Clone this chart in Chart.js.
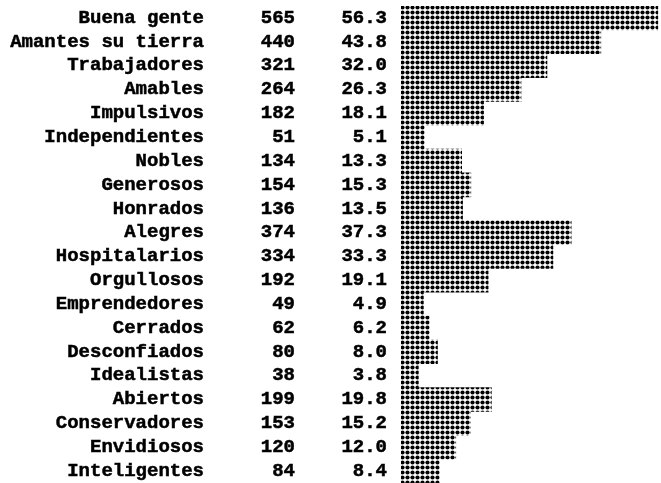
<!DOCTYPE html>
<html>
<head>
<meta charset="utf-8">
<script src="https://cdn.jsdelivr.net/npm/chart.js@4"></script>
<style>
  html, body { margin: 0; padding: 0; background: #fff; }
  #wrap { width: 661px; height: 483px; }
</style>
</head>
<body>
<div id="wrap"><canvas id="myChart" width="661" height="483"></canvas></div>
<script>
let labels = ['Buena gente', 'Amantes su tierra', 'Trabajadores', 'Amables', 'Impulsivos',
  'Independientes', 'Nobles', 'Generosos', 'Honrados', 'Alegres', 'Hospitalarios',
  'Orgullosos', 'Emprendedores', 'Cerrados', 'Desconfiados', 'Idealistas', 'Abiertos',
  'Conservadores', 'Envidiosos', 'Inteligentes'];
let counts = [565, 440, 321, 264, 182, 51, 134, 154, 136, 374, 334, 192, 49, 62, 80, 38, 199, 153, 120, 84];
let percents = [56.3, 43.8, 32.0, 26.3, 18.1, 5.1, 13.3, 15.3, 13.5, 37.3, 33.3, 19.1, 4.9, 6.2, 8.0, 3.8, 19.8, 15.2, 12.0, 8.4];

let textFont = 'bold 19px "Liberation Mono", "Courier New", monospace';

// dot matrix fill for the bars
function dotPattern() {
    var c = document.createElement('canvas');
    c.width = 5;
    c.height = 5;
    var g = c.getContext('2d');
    g.fillStyle = '#fff';
    g.fillRect(0, 0, 5, 5);
    g.fillStyle = '#000';
    g.beginPath();
    g.arc(2.5, 2.5, 2.1, 0, Math.PI * 2);
    g.fill();
    return g.createPattern(c, 'repeat');
}

// name, count and percent columns left of the bars
let textColumns = {
    id: 'textColumns',
    afterDraw(chart) {
        var ctx = chart.ctx;
        var y = chart.scales.y;
        var left = chart.chartArea.left;
        ctx.save();
        ctx.font = textFont;
        ctx.fillStyle = '#000';
        ctx.strokeStyle = '#000';
        ctx.lineWidth = 0.5;
        ctx.textAlign = 'right';
        ctx.textBaseline = 'middle';
        for (var i = 0; i < labels.length; i++) {
            var py = y.getPixelForValue(i);
            var cols = [[labels[i], left - 197], [String(counts[i]), left - 106], [percents[i].toFixed(1), left - 14]];
            cols.forEach(function (c) {
                ctx.fillText(c[0], c[1], py);
                ctx.strokeText(c[0], c[1], py);
            });
        }
        ctx.restore();
    }
};

let ctx = document.getElementById('myChart').getContext('2d');
let myChart = new Chart(ctx, {
    type: 'bar',
    data: {
        labels: labels,
        datasets: [{
            data: percents,
            backgroundColor: dotPattern(),
            borderWidth: 0,
            barPercentage: 1,
            categoryPercentage: 1
        }]
    },
    options: {
        indexAxis: 'y',
        responsive: false,
        animation: false,
        layout: { padding: { top: 6, right: 0, bottom: 0, left: 401 } },
        scales: {
            x: { display: false, min: 0, max: 57 },
            y: { display: false }
        },
        plugins: {
            legend: { display: false },
            tooltip: { enabled: false }
        }
    },
    plugins: [textColumns]
});
</script>
</body>
</html>
